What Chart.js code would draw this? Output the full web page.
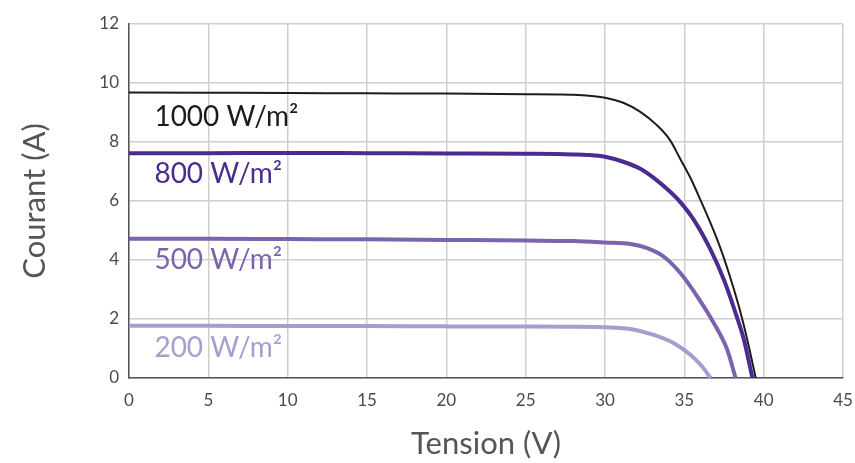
<!DOCTYPE html>
<html>
<head>
<meta charset="utf-8">
<script src="https://cdn.jsdelivr.net/npm/chart.js@4"></script>
<style>
  body { margin: 0; background: #fff; }
  #wrap { width: 855px; height: 463px; }
</style>
</head>
<body>
<div id="wrap"><canvas id="chart" width="855" height="463"></canvas></div>
<script>
const seriesLabels = ["1000 W/m²", "800 W/m²", "500 W/m²", "200 W/m²"];

const v1000 = [0, 5, 10, 15, 20, 25, 27, 28, 29, 30, 31.15, 32.2, 33.25, 34.09, 34.72, 35.35, 35.88, 37.08, 37.81, 38.44, 38.97, 39.5];
const i1000 = [9.68, 9.67, 9.66, 9.65, 9.64, 9.62, 9.61, 9.6, 9.57, 9.5, 9.33, 9.03, 8.58, 8.07, 7.45, 6.82, 6.2, 4.68, 3.55, 2.42, 1.29, 0];

const v800 = [0, 5, 10, 15, 20, 25, 28, 29, 30, 31.15, 32.2, 33.25, 34.09, 34.72, 35.6, 36.66, 37.5, 38.23, 38.76, 39.29];
const i800 = [7.62, 7.62, 7.63, 7.62, 7.61, 7.6, 7.58, 7.56, 7.5, 7.33, 7.1, 6.71, 6.32, 5.98, 5.36, 4.34, 3.32, 2.2, 1.29, 0];

const v500 = [0, 5, 10, 15, 20, 25, 28, 30, 31.6, 32.66, 33.71, 34.76, 35.82, 36.86, 37.71, 38.23];
const i500 = [4.72, 4.72, 4.71, 4.7, 4.68, 4.66, 4.64, 4.59, 4.54, 4.4, 4.11, 3.55, 2.76, 1.86, 0.95, 0];

const v200 = [0, 5, 10, 15, 20, 25, 28, 30, 31.6, 33.08, 34.34, 35.4, 36.13, 36.65];
const i200 = [1.77, 1.77, 1.76, 1.76, 1.75, 1.75, 1.74, 1.72, 1.66, 1.46, 1.18, 0.78, 0.38, 0];

// where each curve label sits, in data units (left x, middle y)
const labelX = [1.6, 1.6, 1.6, 1.6];
const labelY = [8.85, 6.9, 4.0, 1.02];

const colors = ["#1f1a1c", "#4b2b8f", "#7b63ad", "#aa9cd0"];
const widths = [2, 4, 4, 4];

function toPoints(xs, ys) {
  return xs.map((x, i) => ({ x: x, y: ys[i] }));
}

const curves = [
  toPoints(v1000, i1000),
  toPoints(v800, i800),
  toPoints(v500, i500),
  toPoints(v200, i200),
];

const curveLabels = {
  id: "curveLabels",
  afterDatasetsDraw(chart) {
    const { ctx, scales } = chart;
    ctx.save();
    ctx.font = "28px Lato";
    ctx.textAlign = "left";
    ctx.textBaseline = "middle";
    seriesLabels.forEach((txt, i) => {
      ctx.fillStyle = colors[i];
      ctx.fillText(txt, scales.x.getPixelForValue(labelX[i]), scales.y.getPixelForValue(labelY[i]));
    });
    ctx.restore();
  },
};

new Chart(document.getElementById("chart"), {
  type: "line",
  data: {
    datasets: curves.map((pts, i) => ({
      label: seriesLabels[i],
      data: pts,
      borderColor: colors[i],
      borderWidth: widths[i],
      pointRadius: 0,
      cubicInterpolationMode: "monotone",
      fill: false,
    })),
  },
  options: {
    responsive: false,
    animation: false,
    layout: { padding: { top: 24, right: 12, left: 0, bottom: 0 } },
    plugins: {
      legend: { display: false },
      tooltip: { enabled: false },
    },
    scales: {
      x: {
        type: "linear",
        min: 0,
        max: 45,
        ticks: { stepSize: 5, color: "#4a4a4a", font: { family: "Lato", size: 17 }, padding: 12 },
        grid: { color: "#cfcfcf", lineWidth: 1.5, drawTicks: false },
        border: { color: "#555", width: 1.5 },
        title: {
          display: true,
          text: "Tension (V)",
          color: "#555",
          font: { family: "Lato", size: 31 },
          padding: { top: 0, bottom: 0 },
        },
        afterFit(scale) {
          scale.height = 85;
          scale.paddingLeft = 0;
          scale.paddingRight = 0;
        },
      },
      y: {
        min: 0,
        max: 12,
        ticks: { stepSize: 2, color: "#4a4a4a", font: { family: "Lato", size: 17 }, padding: 10 },
        grid: { color: "#cfcfcf", lineWidth: 1.5, drawTicks: false },
        border: { color: "#555", width: 1.5 },
        title: {
          display: true,
          text: "Courant (A)",
          color: "#555",
          font: { family: "Lato", size: 31 },
          padding: { top: 16, bottom: 0 },
        },
        afterFit(scale) {
          scale.width = 129;
          scale.paddingTop = 0;
          scale.paddingBottom = 0;
        },
      },
    },
  },
  plugins: [curveLabels],
});
</script>
</body>
</html>
